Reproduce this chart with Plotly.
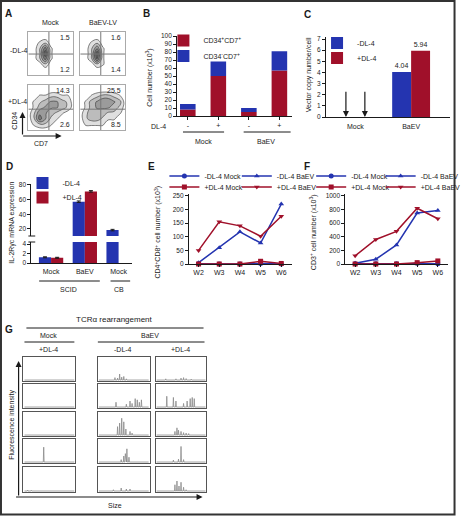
import plotly.graph_objects as go

W, H = 466, 516
FONT = "Liberation Sans, Arial, sans-serif"
NARROW = "Liberation Sans Narrow, Arial Narrow, Liberation Sans, sans-serif"
INK = "#1a1a1a"
RED = "#A0102A"
BLUE = "#2434B0"

# ---------------- data ----------------
# A: flow cytometry (CD7 on x, CD34 on y), quadrant percentages
flow_col_labels = ["Mock", "BaEV-LV"]
flow_row_labels = ["-DL-4", "+DL-4"]
flow_q_upper = [[1.5, 1.6], [14.3, 25.5]]
flow_q_lower = [[1.2, 1.4], [2.6, 8.5]]
flow_grid = [0, 1, 2, 3, 4, 5, 6, 7, 8]
dens_mock_minus = [
    [0, 0, 0, 0, 0, 0, 0, 0, 0],
    [0, 0, 0, 0, 0, 0, 0, 0, 0],
    [0, 0, 0, 2, 0, 0, 0, 0, 0],
    [0, 0, 2, 6, 1, 0, 0, 0, 0],
    [0, 0, 2, 8, 1, 0, 0, 0, 0],
    [0, 0, 2, 6, 1, 0, 0, 0, 0],
    [0, 0, 1, 2, 0, 0, 0, 0, 0],
    [0, 0, 0, 0, 0, 0, 0, 0, 0],
    [0, 0, 0, 0, 0, 0, 0, 0, 0],
]
dens_baev_minus = [
    [0, 0, 0, 0, 0, 0, 0, 0, 0],
    [0, 0, 0, 0, 0, 0, 0, 0, 0],
    [0, 0, 0, 2, 1, 0, 0, 0, 0],
    [0, 0, 2, 7, 1, 0, 0, 0, 0],
    [0, 0, 2, 8, 1, 0, 0, 0, 0],
    [0, 0, 2, 5, 1, 0, 0, 0, 0],
    [0, 0, 1, 2, 0, 0, 0, 0, 0],
    [0, 0, 0, 0, 0, 0, 0, 0, 0],
    [0, 0, 0, 0, 0, 0, 0, 0, 0],
]
dens_mock_plus = [
    [0, 0, 0, 0, 0, 0, 0, 0, 0],
    [0, 1, 2, 2, 1, 0, 0, 0, 0],
    [0, 2, 6, 4, 2, 1, 0, 0, 0],
    [0, 2, 5, 4, 3, 2, 1, 0, 0],
    [0, 1, 3, 4, 4, 4, 3, 2, 0],
    [0, 1, 2, 3, 4, 4, 3, 2, 0],
    [0, 0, 1, 1, 2, 2, 1, 1, 0],
    [0, 0, 0, 0, 0, 0, 0, 0, 0],
    [0, 0, 0, 0, 0, 0, 0, 0, 0],
]
dens_baev_plus = [
    [0, 0, 0, 0, 0, 0, 0, 0, 0],
    [0, 1, 1, 1, 1, 0, 0, 0, 0],
    [0, 2, 3, 3, 2, 1, 1, 0, 0],
    [0, 2, 3, 3, 3, 2, 2, 1, 0],
    [0, 1, 3, 4, 4, 4, 3, 2, 0],
    [0, 1, 3, 4, 5, 5, 4, 3, 0],
    [0, 0, 1, 2, 3, 3, 2, 1, 0],
    [0, 0, 0, 0, 0, 0, 0, 0, 0],
    [0, 0, 0, 0, 0, 0, 0, 0, 0],
]

# B: cell number (x10^3), stacked
b_groups = ["Mock", "BaEV"]
b_dl4 = ["-", "+", "-", "+"]
b_cd34pos_cd7pos = [8, 50, 5, 57]
b_cd34neg_cd7pos = [7, 18, 5, 24]

# C: vector copy number / cell
c_cats = ["Mock", "BaEV"]
c_minus = [0, 4.04]
c_plus = [0, 5.94]

# D: IL-2Rgc mRNA expression
d_cats = ["Mock", "BaEV", "Mock"]
d_minus = [1.2, 57, 18.5]
d_plus = [1.1, 71, None]
d_minus_err = [0.1, 1.0, 1.0]
d_plus_err = [0.1, 1.0, None]

# E / F: weekly cell numbers (x10^3)
weeks = ["W2", "W3", "W4", "W5", "W6"]
e_minus_mock = [1, 0, 0, 2, 0]
e_minus_baev = [5, 60, 118, 77, 220]
e_plus_mock = [0, 0, 0, 10, 2]
e_plus_baev = [50, 155, 140, 102, 175]
f_minus_mock = [2, 2, 2, 10, 5]
f_minus_baev = [10, 70, 280, 750, 785]
f_plus_mock = [0, 0, 0, 20, 45]
f_plus_baev = [120, 360, 480, 820, 665]

# G: TCRa rearrangement spectra, (relative size, relative intensity) peaks
g_mock_plus = [
    [(0.30, 0.02), (0.60, 0.02)],
    [],
    [(0.10, 0.03)],
    [(0.39, 0.62)],
    [(0.08, 0.04), (0.15, 0.03)],
]
g_baev_minus = [
    [(0.33, 0.10), (0.38, 0.08), (0.42, 0.25), (0.46, 0.12), (0.50, 0.15), (0.55, 0.05)],
    [(0.35, 0.20), (0.55, 0.12), (0.62, 0.25), (0.66, 0.15), (0.72, 0.35), (0.76, 0.30), (0.80, 0.20), (0.84, 0.30)],
    [(0.38, 0.35), (0.42, 0.50), (0.46, 0.70), (0.50, 0.55), (0.54, 0.25), (0.62, 0.15), (0.66, 0.08)],
    [(0.45, 0.10), (0.50, 0.25), (0.53, 0.35), (0.56, 0.55), (0.60, 0.20)],
    [(0.30, 0.05), (0.45, 0.12), (0.55, 0.08), (0.62, 0.08)],
]
g_baev_plus = [
    [(0.20, 0.05), (0.40, 0.05), (0.50, 0.08), (0.55, 0.10), (0.60, 0.06), (0.70, 0.04)],
    [(0.22, 0.45), (0.35, 0.40), (0.40, 0.25), (0.55, 0.15), (0.62, 0.25), (0.68, 0.35), (0.72, 0.40), (0.76, 0.35)],
    [(0.38, 0.15), (0.42, 0.30), (0.45, 0.20), (0.50, 0.15), (0.55, 0.10), (0.60, 0.08), (0.65, 0.06)],
    [(0.35, 0.08), (0.45, 0.12), (0.50, 0.65), (0.55, 0.10)],
    [(0.38, 0.25), (0.42, 0.40), (0.46, 0.20), (0.50, 0.35), (0.55, 0.15), (0.60, 0.05)],
]

# ---------------- helpers ----------------
layout = {}
annotations = []
shapes = []
traces = []


def names(k):
    s = "" if k == 1 else str(k)
    return "xaxis" + s, "yaxis" + s, "x" + s, "y" + s


AX = dict(showgrid=False, zeroline=False, automargin=False, fixedrange=True,
          tickfont=dict(size=6.5, family=FONT, color=INK))
LINE = dict(showline=True, linecolor=INK, linewidth=1, ticks="outside",
            ticklen=3, tickwidth=1, tickcolor=INK)
BOX = dict(showline=True, mirror=True, linewidth=1, ticks="", showticklabels=False)


def add_axes(k, x0, x1, ytop, ybot, xo=None, yo=None):
    xa, ya, xr, yr = names(k)
    xd = dict(AX, domain=[x0 / W, x1 / W], anchor=yr)
    xd.update(xo or {})
    yd = dict(AX, domain=[1 - ybot / H, 1 - ytop / H], anchor=xr)
    yd.update(yo or {})
    layout[xa] = xd
    layout[ya] = yd
    return xr, yr


def text(s, px, py, size=7, bold=False, angle=0, xanchor="center", yanchor="middle", family=FONT):
    annotations.append(dict(text=f"<b>{s}</b>" if bold else s, x=px / W, y=1 - py / H,
                            xref="paper", yref="paper", showarrow=False, textangle=angle,
                            xanchor=xanchor, yanchor=yanchor,
                            font=dict(size=size, family=family, color=INK)))


def arrow(tx, ty, hx, hy):
    annotations.append(dict(x=hx / W, y=1 - hy / H, xref="paper", yref="paper",
                            ax=tx - hx, ay=ty - hy, axref="pixel", ayref="pixel", text="",
                            showarrow=True, arrowhead=2, arrowsize=1, arrowwidth=1.2,
                            arrowcolor=INK))


def pline(x0, y0, x1, y1, color=INK, width=1):
    shapes.append(dict(type="line", xref="paper", yref="paper", x0=x0 / W, y0=1 - y0 / H,
                       x1=x1 / W, y1=1 - y1 / H, line=dict(color=color, width=width)))


def legend_at(name, px, py, family=FONT):
    layout[name] = dict(x=px / W, y=1 - py / H, xanchor="left", yanchor="middle",
                        bgcolor="rgba(0,0,0,0)", borderwidth=0,
                        font=dict(size=7, family=family, color=INK), itemwidth=30,
                        tracegroupgap=0, itemclick=False, itemdoubleclick=False)


TF7 = dict(size=7, family=FONT, color=INK)

# ---------------- panel A ----------------
boxesA = [[(29, 75, 32, 75), (82, 128, 32, 75)], [(29, 75, 85, 130), (82, 128, 85, 130)]]
densA = [[dens_mock_minus, dens_baev_minus], [dens_mock_plus, dens_baev_plus]]
gate_x = 3.65
gate_y = [3.9, 3.7]
flow_scale = [[0, "#ffffff"], [0.09, "#ffffff"], [0.1, "#e2e2e2"], [0.5, "#ababab"], [1, "#6a6a6a"]]
k = 1
for r in range(2):
    for c in range(2):
        x0, x1, yt, yb = boxesA[r][c]
        xr, yr = add_axes(k, x0, x1, yt, yb,
                          dict(BOX, linecolor="#aaaaaa", range=[0, 8]),
                          dict(BOX, linecolor="#aaaaaa", range=[0, 8]))
        traces.append(go.Contour(z=densA[r][c], x=flow_grid, y=flow_grid, xaxis=xr, yaxis=yr,
                                 showscale=False, zmin=0, zmax=8, colorscale=flow_scale,
                                 contours=dict(start=0.8, end=8, size=1.5, coloring="fill"),
                                 line=dict(color="#333333", width=0.6, smoothing=1.3),
                                 hoverinfo="skip", showlegend=False))
        shapes.append(dict(type="line", xref=xr, yref=yr, x0=gate_x, x1=gate_x, y0=0, y1=8,
                           line=dict(color="#777777", width=1)))
        shapes.append(dict(type="line", xref=xr, yref=yr, x0=0, x1=8, y0=gate_y[r], y1=gate_y[r],
                           line=dict(color="#777777", width=1)))
        for val, yy in ((flow_q_upper[r][c], 0.87), (flow_q_lower[r][c], 0.12)):
            annotations.append(dict(text=f"{val}", x=0.96, y=yy, xref=f"{xr} domain",
                                    yref=f"{yr} domain", showarrow=False, xanchor="right",
                                    yanchor="middle", font=TF7))
        k += 1
text(flow_col_labels[0], 52, 23)
text(flow_col_labels[1], 105, 23)
text(flow_row_labels[0], 19, 51)
text(flow_row_labels[1], 18, 101)
arrow(23, 136, 23, 112)
arrow(23, 136, 63, 136)
text("CD34", 15, 121, angle=-90)
text("CD7", 42, 143)
text("A", 9, 13, size=10, bold=True)

# ---------------- panel B ----------------
b_pos = list(range(len(b_dl4)))
xr, yr = add_axes(5, 181, 298, 36, 116,
                  dict(LINE, range=[-0.35, 3.4], tickvals=b_pos, ticktext=b_dl4, tickfont=TF7),
                  dict(LINE, range=[0, 100], dtick=10, tick0=0))
traces.append(go.Bar(x=b_pos, y=b_cd34pos_cd7pos, width=0.51, marker=dict(color=RED, line=dict(width=0)),
                     name="CD34<sup>+</sup>CD7<sup>+</sup>", legend="legend", xaxis=xr, yaxis=yr,
                     hoverinfo="skip"))
traces.append(go.Bar(x=b_pos, y=b_cd34neg_cd7pos, base=b_cd34pos_cd7pos, width=0.51,
                     marker=dict(color=BLUE, line=dict(width=0)),
                     name="CD34<sup>-</sup>CD7<sup>+</sup>", legend="legend2", xaxis=xr, yaxis=yr,
                     hoverinfo="skip"))
legend_at("legend", 167, 40.5)
legend_at("legend2", 167, 56)
text("Cell number (x10<sup>3</sup>)", 152, 78, angle=-90)
text("DL-4", 162, 126)
pline(187, 132, 229, 132)
pline(249, 132, 297, 132)
text(b_groups[0], 208, 141)
text(b_groups[1], 272, 141)
text("B", 150, 13, size=10, bold=True)

# ---------------- panel C ----------------
c_pos = list(range(len(c_cats)))
xr, yr = add_axes(6, 333, 460, 37, 117,
                  dict(LINE, ticks="", range=[-0.53, 1.7], tickvals=c_pos, ticktext=c_cats,
                       tickfont=TF7, ticklabelstandoff=3),
                  dict(LINE, range=[0, 7.18], dtick=1, tick0=0))
traces.append(go.Bar(x=c_pos, y=c_minus, width=0.34, offset=-0.34,
                     marker=dict(color=BLUE, line=dict(width=0)), name="-DL-4", legend="legend3",
                     text=[f"{v:.2f}" if v else "" for v in c_minus], textposition="outside",
                     textfont=TF7, cliponaxis=False, xaxis=xr, yaxis=yr, hoverinfo="skip"))
traces.append(go.Bar(x=c_pos, y=c_plus, width=0.34, offset=0,
                     marker=dict(color=RED, line=dict(width=0)), name="+DL-4", legend="legend4",
                     text=[f"{v:.2f}" if v else "" for v in c_plus], textposition="outside",
                     textfont=TF7, cliponaxis=False, xaxis=xr, yaxis=yr, hoverinfo="skip"))
for xc in (-0.17, 0.17):
    annotations.append(dict(x=xc, y=0, xref=xr, yref=yr, ax=xc, ay=2.4, axref=xr, ayref=yr,
                            text="", showarrow=True, arrowhead=2, arrowsize=1, arrowwidth=1.2,
                            arrowcolor=INK))
legend_at("legend3", 324, 43)
legend_at("legend4", 324, 58)
text("Vector copy number/cell", 316, 75, angle=-90)
text("C", 314, 14, size=10, bold=True)

# ---------------- panel D ----------------
d_pos = list(range(len(d_cats)))
d_range = [-0.585, 2.4]
xu, yu = add_axes(7, 32, 135, 184, 236, dict(visible=False, range=d_range),
                  dict(LINE, range=[10.5, 81], tickvals=[20, 40, 60, 80]))
xl, yl = add_axes(8, 32, 135, 242, 263,
                  dict(LINE, ticks="", range=d_range, tickvals=d_pos, ticktext=d_cats,
                       tickfont=TF7, ticklabelstandoff=2),
                  dict(LINE, range=[0, 4.42], tickvals=[0, 2, 4]))
for (xr, yr, show) in ((xu, yu, False), (xl, yl, True)):
    traces.append(go.Bar(x=d_pos, y=d_minus, width=0.36, offset=-0.36,
                         marker=dict(color=BLUE, line=dict(width=0)), name="-DL-4",
                         legend="legend5", showlegend=show,
                         error_y=dict(type="data", array=d_minus_err, color=INK, thickness=1, width=2),
                         xaxis=xr, yaxis=yr, hoverinfo="skip"))
    traces.append(go.Bar(x=d_pos, y=d_plus, width=0.36, offset=0,
                         marker=dict(color=RED, line=dict(width=0)), name="+DL-4",
                         legend="legend6", showlegend=show,
                         error_y=dict(type="data", array=d_plus_err, color=INK, thickness=1, width=2),
                         xaxis=xr, yaxis=yr, hoverinfo="skip"))
legend_at("legend5", 23, 183)
legend_at("legend6", 23, 197.5)
pline(29, 236, 36, 236)
pline(29, 242, 36, 242)
text("IL-2Rγc mRNA expression", 12, 223, angle=-90)
pline(40, 281, 102, 281)
pline(113, 281, 133, 281)
text("SCID", 70, 289)
text("CB", 122, 289)
text("D", 10, 166, size=10, bold=True)


# ---------------- panels E & F ----------------
def line_panel(k, x0, x1, yrange, ytv, series, legs, title, tx, letter, lpx, lx):
    xr, yr = add_axes(k, x0, x1, 194, 264,
                      dict(LINE, type="category", range=[-0.47, 4.5], ticklen=2, tickfont=TF7),
                      dict(LINE, range=yrange, tickvals=ytv))
    styles = [("-DL-4 Mock", BLUE, "circle"), ("-DL-4 BaEV", BLUE, "triangle-up"),
              ("+DL-4 Mock", RED, "square"), ("+DL-4 BaEV", RED, "triangle-down")]
    for (nm, col, sym), ys, lg in zip(styles, series, legs):
        traces.append(go.Scatter(x=weeks, y=ys, mode="lines+markers", name=nm, legend=lg,
                                 line=dict(color=col, width=1.5),
                                 marker=dict(color=col, symbol=sym, size=5),
                                 cliponaxis=False, xaxis=xr, yaxis=yr, hoverinfo="skip"))
    legend_at(legs[0], lx[0], 176, NARROW)
    legend_at(legs[1], lx[1], 176, NARROW)
    legend_at(legs[2], lx[0], 187, NARROW)
    legend_at(legs[3], lx[1], 187, NARROW)
    text(title, tx, 232, angle=-90)
    text(letter, lpx, 166, size=10, bold=True)


line_panel(9, 193, 298, [0, 257], [0, 50, 100, 150, 200, 250],
           [e_minus_mock, e_minus_baev, e_plus_mock, e_plus_baev],
           ["legend7", "legend8", "legend9", "legend10"],
           "CD4<sup>+</sup>CD8<sup>+</sup> cell number (x10<sup>3</sup>)", 161, "E", 155, (168, 242))
line_panel(10, 353, 458, [0, 1029], [0, 200, 400, 600, 800, 1000],
           [f_minus_mock, f_minus_baev, f_plus_mock, f_plus_baev],
           ["legend11", "legend12", "legend13", "legend14"],
           "CD3<sup>+</sup> cell number (x10<sup>3</sup>)", 320, "F", 314, (318, 389))

# ---------------- panel G ----------------
g_cols = [(24, 77), (100, 153), (159, 211)]
g_rows = [(357, 381), (384, 408), (412, 436), (439, 463), (467, 492)]
g_data = [g_mock_plus, g_baev_minus, g_baev_plus]


def spikes(peaks, base=0.04, hw=0.008):
    xs, ys = [0.02], [base]
    for p, h in sorted(peaks):
        xs += [p - hw, p, p + hw]
        ys += [base, base + h, base]
    xs.append(0.98)
    ys.append(base)
    return xs, ys


k = 11
for ci, (cx0, cx1) in enumerate(g_cols):
    for ri, (ry0, ry1) in enumerate(g_rows):
        xr, yr = add_axes(k, cx0, cx1, ry0, ry1,
                          dict(BOX, linecolor="#555555", range=[0, 1]),
                          dict(BOX, linecolor="#555555", range=[0, 1]))
        xs, ys = spikes(g_data[ci][ri])
        traces.append(go.Scatter(x=xs, y=ys, mode="lines", line=dict(color="#8a8a8a", width=0.8),
                                 xaxis=xr, yaxis=yr, showlegend=False, hoverinfo="skip"))
        k += 1

text("G", 9, 329, size=10, bold=True)
text("TCRα rearrangement", 117, 319, size=8)
pline(27, 328, 208, 328)
text("Mock", 50, 335)
pline(25, 342, 76, 342)
text("BaEV", 153, 335)
pline(100, 342, 209, 342)
text("+DL-4", 50, 349)
text("-DL-4", 126, 349)
text("+DL-4", 184, 349)
arrow(19, 497, 19, 361)
arrow(19, 497, 207, 497)
text("Fluorescence intensity", 12, 425, angle=-90)
text("Size", 118, 505)

# frame
shapes.append(dict(type="rect", xref="paper", yref="paper", x0=1 / W, x1=464.5 / W,
                   y0=1 - 514.5 / H, y1=1 - 1 / H, line=dict(color="#333333", width=2)))

layout.update(dict(width=W, height=H, margin=dict(l=0, r=0, t=0, b=0),
                   paper_bgcolor="white", plot_bgcolor="white", showlegend=True,
                   barmode="overlay", font=dict(family=FONT, size=7, color=INK),
                   annotations=annotations, shapes=shapes))

fig = go.Figure(data=traces, layout=layout)
fig.write_html("out.html", config=dict(displayModeBar=False, staticPlot=True),
               post_script="document.body.style.margin='0';")
